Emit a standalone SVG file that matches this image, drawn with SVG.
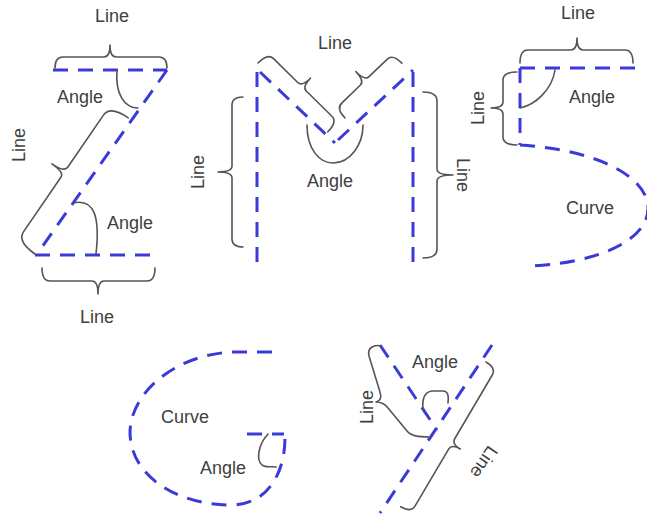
<svg xmlns="http://www.w3.org/2000/svg" width="647" height="514" viewBox="0 0 647 514">
<style>
.s{fill:none;stroke:#3a3ad8;stroke-width:3;stroke-dasharray:15 10}
.b{fill:none;stroke:#555;stroke-width:1.6;stroke-linejoin:round;stroke-linecap:round}
.t{font-family:"Liberation Sans",Arial,sans-serif;font-size:18px;fill:#404040;text-anchor:middle;dominant-baseline:central}
</style>
<rect width="647" height="514" fill="#fff"/>
<g id="letter-z">
<path class="s" d="M53,70 L167,70 M167,70 L42,247 M35,255 L160,255"/>
<path class="b" transform="translate(55,68)" d="M0,0 C0,-8 3,-11 8,-11 L49,-11 Q55,-11 55,-23 Q55,-11 61,-11 L104,-11 C109,-11 112,-8 112,0"/>
<path class="b" transform="translate(155,268) rotate(180)" d="M0,0 C0,-9 3,-13 8,-13 L51,-13 Q57,-13 57,-26 Q57,-13 63,-13 L105,-13 C110,-13 113,-9 113,0"/>
<path class="b" transform="translate(35,254) rotate(-55.6)" d="M0,0 C0,-14 4,-22 12,-22 L78,-22 Q84,-22 84,-37 Q84,-22 90,-22 L153,-22 C161,-22 165,-14 165,0"/>
<path class="b" d="M117,70 C115,95 125,108 138,108"/>
<path class="b" d="M73,203 C95,198 100,218 96,254"/>
<text class="t" x="112" y="16">Line</text>
<text class="t" x="80" y="97">Angle</text>
<text class="t" transform="translate(19,145) rotate(-90)">Line</text>
<text class="t" x="130" y="223">Angle</text>
<text class="t" x="97" y="317">Line</text>
</g>
<g id="letter-m">
<path class="s" d="M257,72 L257,264 M260,72 L335,143 M338,140 L413,70 M413,72 L413,264"/>
<path class="b" transform="translate(243,247) rotate(-90)" d="M0,0 C0,-8 3,-11 8,-11 L69,-11 Q75,-11 75,-25 Q75,-11 81,-11 L142,-11 C147,-11 150,-8 150,0"/>
<path class="b" transform="translate(423,92) rotate(90)" d="M0,0 C0,-10 3,-14 9,-14 L77,-14 Q83,-14 83,-30 Q83,-14 89,-14 L157,-14 C163,-14 166,-10 166,0"/>
<path class="b" transform="translate(258,63) rotate(44.6)" d="M0,0 C0,-10 3,-14 8,-14 L42,-14 Q48,-14 48,-26 Q48,-14 54,-14 L90,-14 C95,-14 98,-10 98,0"/>
<path class="b" transform="translate(345,118) rotate(-44)" d="M0,0 C0,-9 3,-13 8,-13 L34,-13 Q40,-13 40,-26 Q40,-13 46,-13 L71,-13 C76,-13 79,-9 79,0"/>
<path class="b" d="M307,125 C307,150 320,163 333,163 C350,163 363,145 363,125"/>
<text class="t" x="335" y="43">Line</text>
<text class="t" x="330" y="181">Angle</text>
<text class="t" transform="translate(198,172) rotate(-90)">Line</text>
<text class="t" transform="translate(463,175) rotate(90)">Line</text>
</g>
<g id="letter-s">
<path class="s" d="M520,68 L638,68 M520,68 L520,145 M520,145 C600,150 648,178 648,208 C648,240 600,262 533,266"/>
<path class="b" transform="translate(520,63)" d="M0,0 C0,-9 3,-13 8,-13 L51,-13 Q57,-13 57,-25 Q57,-13 63,-13 L105,-13 C110,-13 113,-9 113,0"/>
<path class="b" transform="translate(517,145) rotate(-90)" d="M0,0 C0,-10 3,-14 8,-14 L31,-14 Q37,-14 37,-26 Q37,-14 43,-14 L65,-14 C70,-14 73,-10 73,0"/>
<path class="b" d="M555,70 C552,90 535,105 520,108"/>
<text class="t" x="578" y="13">Line</text>
<text class="t" transform="translate(478,108) rotate(-90)">Line</text>
<text class="t" x="592" y="97">Angle</text>
<text class="t" x="590" y="208">Curve</text>
</g>
<g id="letter-g">
<path class="s" d="M272,352 L232,352 C175,355 131,392 130,432 C130,475 175,505 232,505 C262,505 285,480 285,437 M247,434 L284,434"/>
<path class="b" d="M268,434 C258,445 256,460 262,465 C266,468 272,466 276,467"/>
<text class="t" x="185" y="417">Curve</text>
<text class="t" x="223" y="468">Angle</text>
</g>
<g id="letter-y">
<path class="s" d="M380,345 L437,430 M492,345 L380,513"/>
<path class="b" d="M381,346 C374,344 367,348 369,356 L380,392 C382,398 380,401 376,402 C381,402 385,404 388,408 L407,431 C411,436 418,437 430,437"/>
<path class="b" transform="translate(486,362) rotate(120.5)" d="M0,0 C0,-8 3,-12 8,-12 L82,-12 Q88,-12 88,-22 Q88,-12 94,-12 L160,-12 C165,-12 168,-8 168,0"/>
<path class="b" d="M423,410 C422,400 424,392 432,391 L443,391 C448,391 449,396 448,403"/>
<text class="t" x="435" y="362">Angle</text>
<text class="t" transform="translate(367,407) rotate(-90)">Line</text>
<text class="t" transform="translate(484,462) rotate(124)">Line</text>
</g>
</svg>
